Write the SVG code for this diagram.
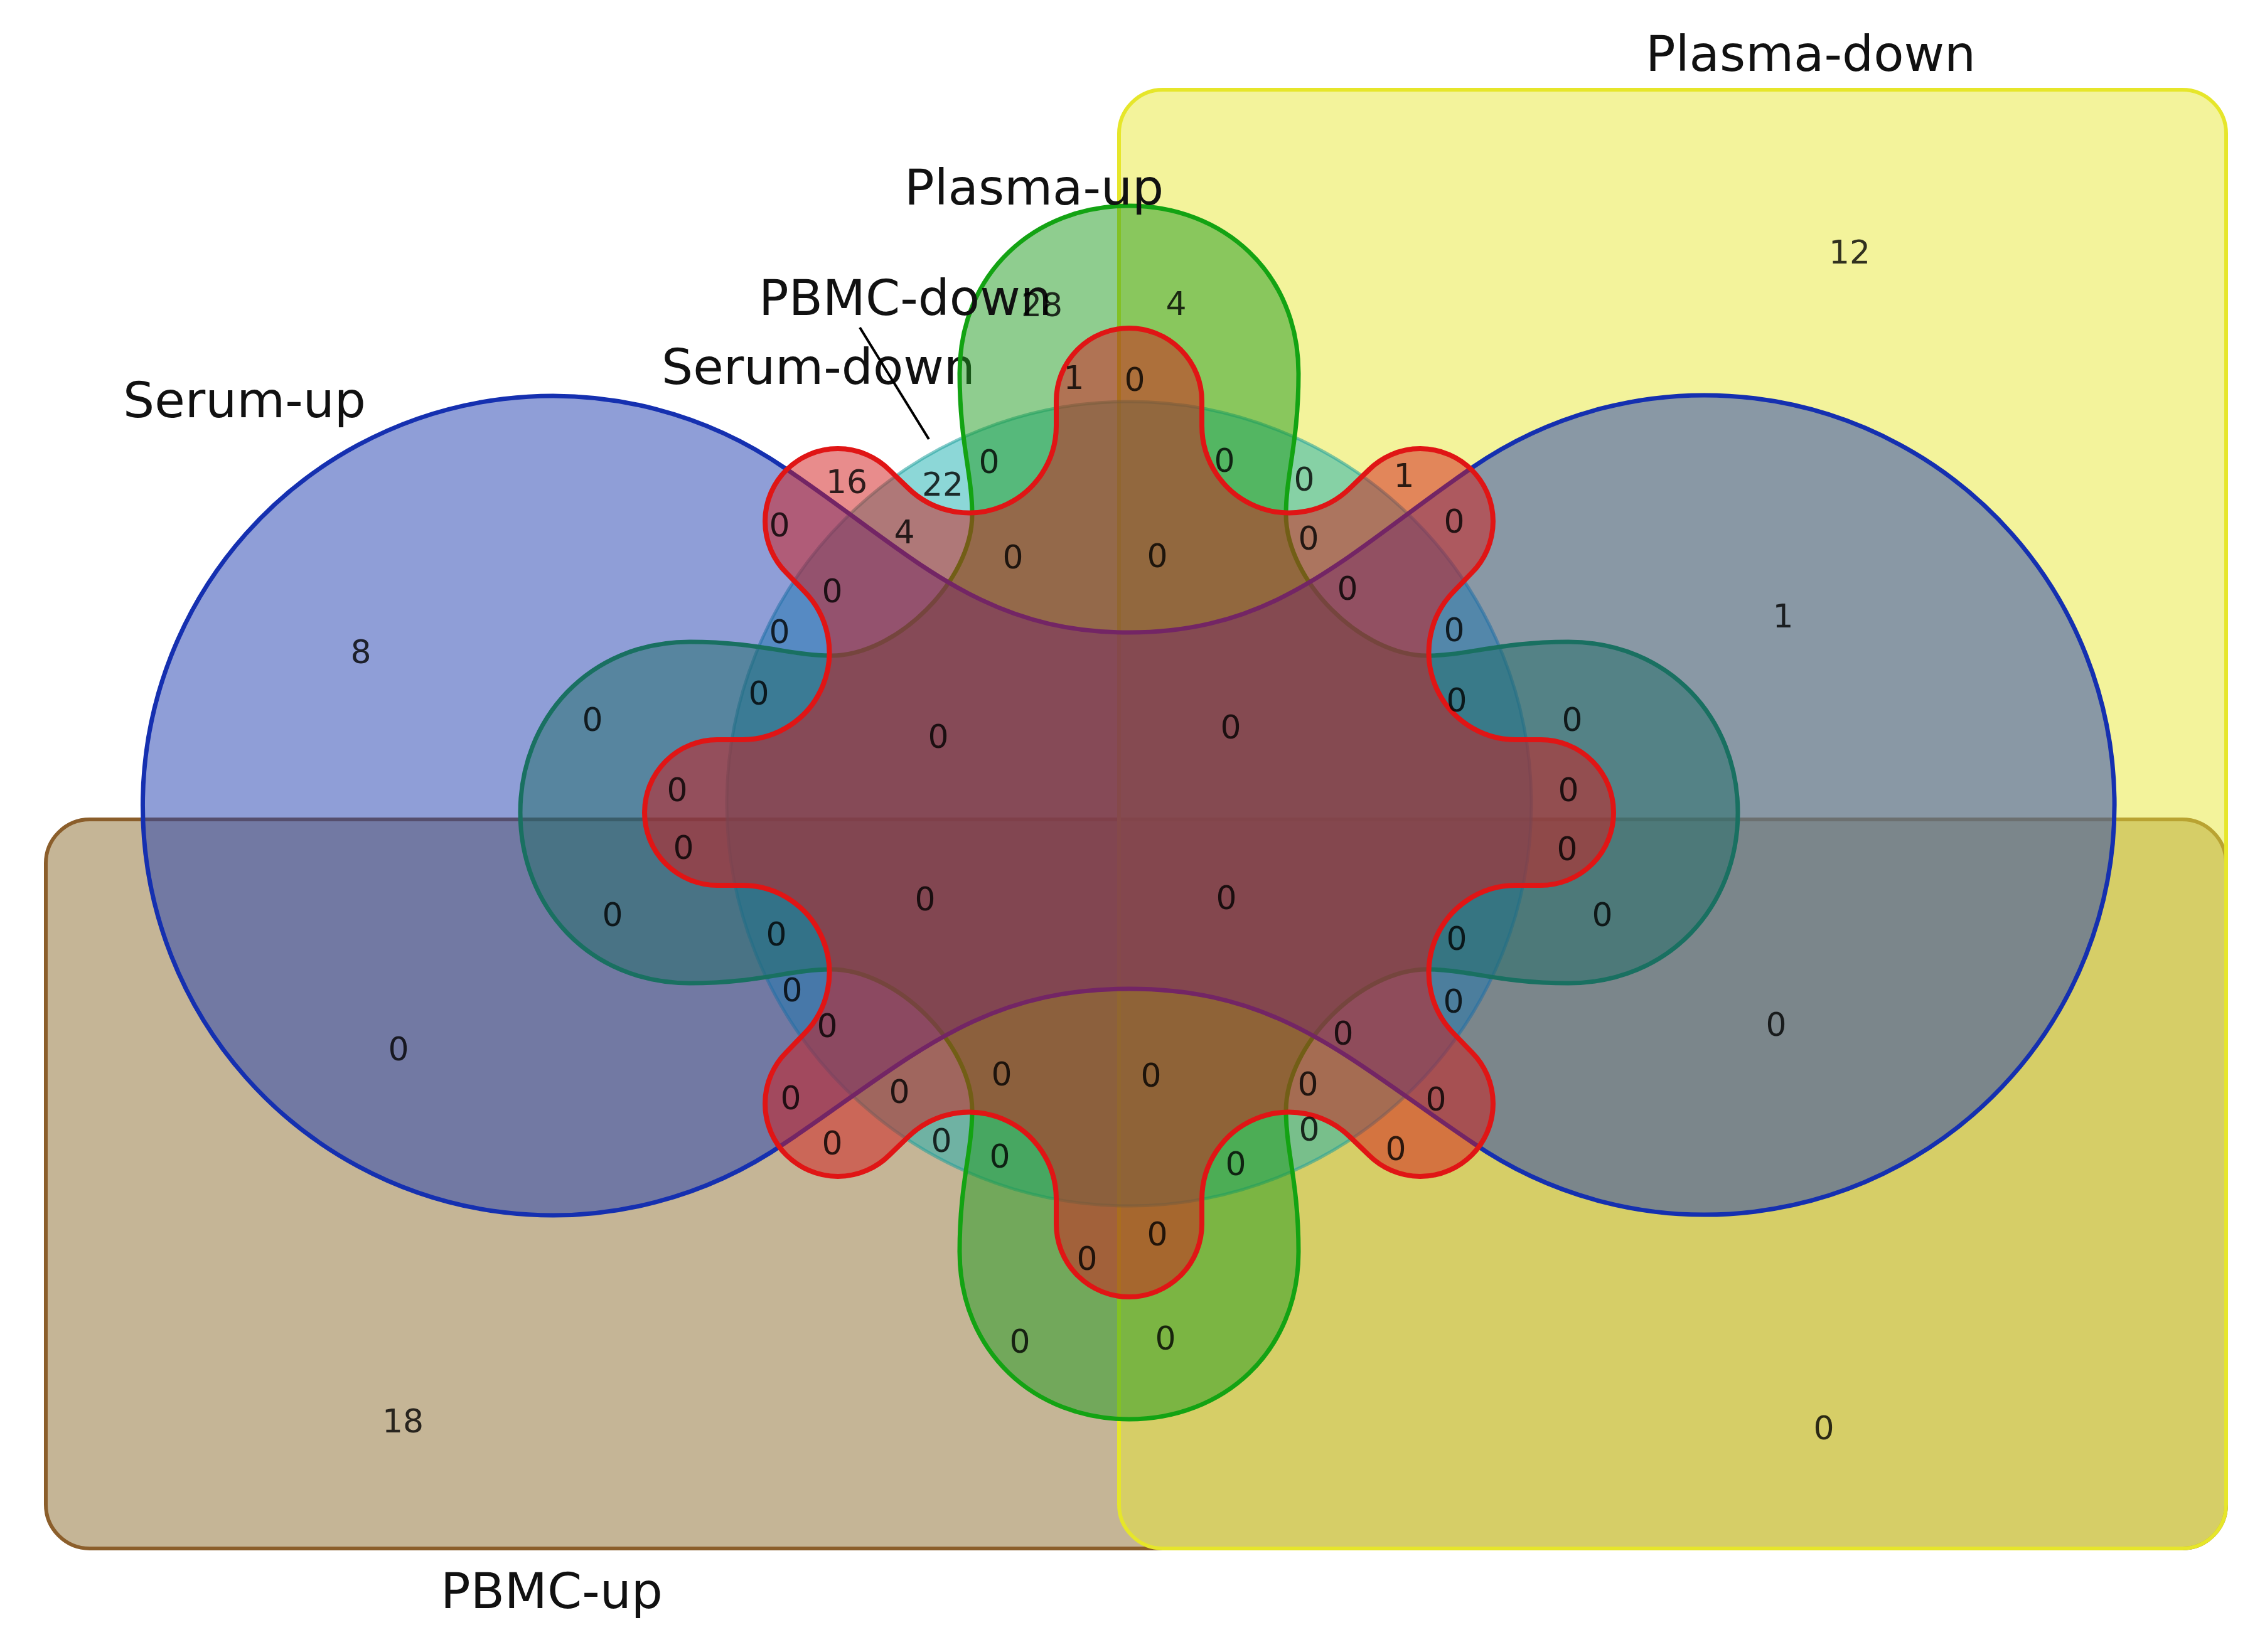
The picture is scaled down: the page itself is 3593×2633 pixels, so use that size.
<svg xmlns="http://www.w3.org/2000/svg" width="3593" height="2633" viewBox="0 0 3593 2633">
<style>
.set{fill-opacity:0.5;stroke-linejoin:round}
.lbl{font-family:"DejaVu Sans","Liberation Sans",sans-serif;font-size:79px;fill:#111}
.n{font-family:"DejaVu Sans","Liberation Sans",sans-serif;font-size:52px;fill:#000;fill-opacity:0.8;text-anchor:middle}
</style>
<rect x="0" y="0" width="3593" height="2633" fill="#ffffff"/>
<g id="pbmc-up">
<rect class="set" x="73" y="1306" width="3474" height="1162" rx="70" fill="#8b6b2d" stroke="#8b5e2b" stroke-width="6"/>
<text class="lbl" x="702" y="2563">PBMC-up</text>
</g>
<g id="plasma-down">
<rect class="set" x="1783" y="143" width="1764" height="2325" rx="70" fill="#e7e737" stroke="#e6e62a" stroke-width="6"/>
<text class="lbl" x="2622" y="113">Plasma-down</text>
</g>
<g id="serum-down">
<circle class="set" cx="1799" cy="1281" r="641" fill="#1aafaf" stroke="#1f9f9a" stroke-opacity="0.55" stroke-width="5"/>
<text class="lbl" x="1054" y="612">Serum-down</text>
</g>
<g id="plasma-up">
<path class="set" transform="translate(1799 1295)" fill="#1f9b1f" stroke="#13a313" stroke-width="7" d="M0,-967 C150,-967 270,-860 270,-700 C270,-590 250,-540 250,-475 C250,-370 370,-250 475,-250 C540,-250 590,-272 700,-272 C860,-272 970,-150 970,0 C970,150 860,272 700,272 C590,272 540,250 475,250 C370,250 250,370 250,475 C250,540 270,590 270,700 C270,860 150,967 0,967 C-150,967 -270,860 -270,700 C-270,590 -250,540 -250,475 C-250,370 -370,250 -475,250 C-540,250 -590,272 -700,272 C-860,272 -970,150 -970,0 C-970,-150 -860,-272 -700,-272 C-590,-272 -540,-250 -475,-250 C-370,-250 -250,-370 -250,-475 C-250,-540 -270,-590 -270,-700 C-270,-860 -150,-967 0,-967 Z"/>
<text class="lbl" x="1441" y="326">Plasma-up</text>
</g>
<g id="serum-up">
<path class="set" fill="#1f3db0" stroke="#1530b0" stroke-width="7" d="M1252,747 C1451,881 1560,1008 1799,1008 C2038,1008 2147,881 2346,745 A653,653 0 1 1 2346,1821 C2147,1687 2038,1576 1799,1576 C1560,1576 1451,1687 1252,1821 A653,653 0 1 1 1252,747 Z"/>
<text class="lbl" x="196" y="665">Serum-up</text>
</g>
<g id="pbmc-down">
<path class="set" transform="translate(1799 1295)" fill="#d21a1a" stroke="#e01515" stroke-width="8" d="M0,-772 A116,116 0 0 1 116,-656 L116,-616 A139,139 0 0 0 353,-518 L382,-546 A116,116 0 0 1 546,-546 A116,116 0 0 1 546,-382 L518,-353 A139,139 0 0 0 616,-116 L656,-116 A116,116 0 0 1 772,0 A116,116 0 0 1 656,116 L616,116 A139,139 0 0 0 518,353 L546,382 A116,116 0 0 1 546,546 A116,116 0 0 1 382,546 L353,518 A139,139 0 0 0 116,616 L116,656 A116,116 0 0 1 0,772 A116,116 0 0 1 -116,656 L-116,616 A139,139 0 0 0 -353,518 L-382,546 A116,116 0 0 1 -546,546 A116,116 0 0 1 -546,382 L-518,353 A139,139 0 0 0 -616,116 L-656,116 A116,116 0 0 1 -772,0 A116,116 0 0 1 -656,-116 L-616,-116 A139,139 0 0 0 -518,-353 L-546,-382 A116,116 0 0 1 -546,-546 A116,116 0 0 1 -382,-546 L-353,-518 A139,139 0 0 0 -116,-616 L-116,-656 A116,116 0 0 1 0,-772 Z"/>
<text class="lbl" x="1209" y="502">PBMC-down</text>
</g>
<g id="connectors">
<line x1="1370" y1="522" x2="1480" y2="700" stroke="#000" stroke-width="4"/>
</g>
<g id="counts">
<text class="n" x="2947" y="420">12</text>
<text class="n" x="575" y="1057">8</text>
<text class="n" x="2841" y="1000">1</text>
<text class="n" x="944" y="1165">0</text>
<text class="n" x="976" y="1476">0</text>
<text class="n" x="635" y="1690">0</text>
<text class="n" x="642" y="2283">18</text>
<text class="n" x="2906" y="2294">0</text>
<text class="n" x="2830" y="1651">0</text>
<text class="n" x="2505" y="1165">0</text>
<text class="n" x="2553" y="1476">0</text>
<text class="n" x="1660" y="504">28</text>
<text class="n" x="1874" y="502">4</text>
<text class="n" x="1711" y="620">1</text>
<text class="n" x="1808" y="623">0</text>
<text class="n" x="1576" y="754">0</text>
<text class="n" x="1349" y="786">16</text>
<text class="n" x="1502" y="790">22</text>
<text class="n" x="1242" y="855">0</text>
<text class="n" x="1441" y="866">4</text>
<text class="n" x="1614" y="906">0</text>
<text class="n" x="1844" y="904">0</text>
<text class="n" x="1326" y="960">0</text>
<text class="n" x="1951" y="752">0</text>
<text class="n" x="2078" y="782">0</text>
<text class="n" x="2237" y="776">1</text>
<text class="n" x="2317" y="849">0</text>
<text class="n" x="2085" y="876">0</text>
<text class="n" x="2147" y="956">0</text>
<text class="n" x="2317" y="1022">0</text>
<text class="n" x="2321" y="1134">0</text>
<text class="n" x="2499" y="1277">0</text>
<text class="n" x="2497" y="1371">0</text>
<text class="n" x="2321" y="1514">0</text>
<text class="n" x="2316" y="1614">0</text>
<text class="n" x="2140" y="1665">0</text>
<text class="n" x="2288" y="1770">0</text>
<text class="n" x="2084" y="1746">0</text>
<text class="n" x="2086" y="1818">0</text>
<text class="n" x="2224" y="1849">0</text>
<text class="n" x="1969" y="1873">0</text>
<text class="n" x="1844" y="1985">0</text>
<text class="n" x="1732" y="2024">0</text>
<text class="n" x="1625" y="2156">0</text>
<text class="n" x="1857" y="2151">0</text>
<text class="n" x="1596" y="1730">0</text>
<text class="n" x="1834" y="1732">0</text>
<text class="n" x="1593" y="1861">0</text>
<text class="n" x="1500" y="1836">0</text>
<text class="n" x="1433" y="1758">0</text>
<text class="n" x="1326" y="1840">0</text>
<text class="n" x="1260" y="1768">0</text>
<text class="n" x="1318" y="1653">0</text>
<text class="n" x="1262" y="1596">0</text>
<text class="n" x="1237" y="1507">0</text>
<text class="n" x="1089" y="1369">0</text>
<text class="n" x="1079" y="1277">0</text>
<text class="n" x="1209" y="1123">0</text>
<text class="n" x="1242" y="1025">0</text>
<text class="n" x="1495" y="1192">0</text>
<text class="n" x="1474" y="1451">0</text>
<text class="n" x="1961" y="1177">0</text>
<text class="n" x="1954" y="1449">0</text>
</g>
</svg>
